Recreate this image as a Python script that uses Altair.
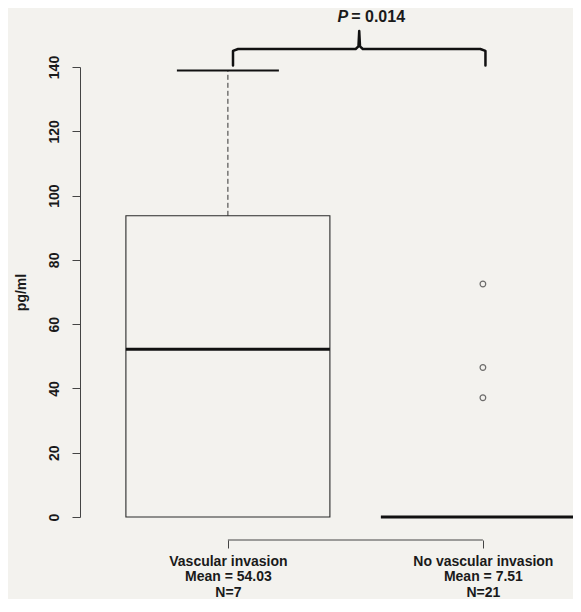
import altair as alt
import pandas as pd

# ---- data ----
groups = ["Vascular invasion", "No vascular invasion"]
means = ["54.03", "7.51"]
ns = [7, 21]
q1 = [0.0, 0.0]
median = [52.2, 0.0]
q3 = [93.7, 0.0]
whisk_hi = [138.9, 0.0]
outlier_group = [2, 2, 2]
outlier_vals = [72.5, 46.5, 37.1]
p_value = "0.014"
y_ticks = [0, 20, 40, 60, 80, 100, 120, 140]

# ---- layout / style constants ----
W, H = 493, 450
BOXWEX = 0.4       # half box width (x units)
STAPLE = 0.2       # half cap width
FONT = "Liberation Sans"
BG = "#f3f2ee"
INK = "#1a1a1a"

pos = list(range(1, len(groups) + 1))
box_df = pd.DataFrame({
    "pos": pos,
    "lo": [p - BOXWEX for p in pos],
    "hi": [p + BOXWEX for p in pos],
    "caplo": [p - STAPLE for p in pos],
    "caphi": [p + STAPLE for p in pos],
    "q1": q1, "med": median, "q3": q3, "whi": whisk_hi,
})
out_df = pd.DataFrame({"pos": outlier_group, "val": outlier_vals})

# brace over the two groups
b_lo, b_mid, b_top = 140.5, 145.6, 151.2
x1, x2 = pos[0] + 0.02, pos[1] + 0.01
xm = (x1 + x2) / 2
brace_df = pd.DataFrame({
    "x": [x1, x1, x1 + 0.02, xm - 0.014, xm - 0.003, xm, xm + 0.003, xm + 0.014,
          x2 - 0.02, x2, x2],
    "y": [b_lo, b_mid - 0.6, b_mid, b_mid, b_mid + 0.8, b_top, b_mid + 0.8, b_mid,
          b_mid, b_mid - 0.6, b_lo],
})
brace_df["o"] = range(len(brace_df))
p_df = pd.DataFrame({"x": [xm], "y": [155.6]})
bracket_df = pd.DataFrame({"x": [pos[0]], "x2": [pos[-1]]})

xs = alt.Scale(domain=[0.42, 0.42 + W / 255], nice=False, zero=False)
ys = alt.Scale(domain=[0, 140], nice=False, zero=False)

label_expr = " : ".join(
    f"datum.value == {p} ? {[g, 'Mean = ' + m, 'N=' + str(n)]}"
    for p, g, m, n in zip(pos[:-1], groups[:-1], means[:-1], ns[:-1])
) + f" : {[groups[-1], 'Mean = ' + means[-1], 'N=' + str(ns[-1])]}"

x_axis = alt.Axis(values=pos, labelExpr=label_expr, offset=23, domain=False,
                  tickSize=8, tickColor="#444", tickWidth=1, labelPadding=6,
                  labelLineHeight=15.5, labelFont=FONT, labelFontWeight="bold",
                  labelFontSize=14, labelColor=INK, labelBaseline="top",
                  labelOverlap=False, labelFlush=False, grid=False, title=None)
y_axis = alt.Axis(values=y_ticks, title="pg/ml", labelAngle=270, labelAlign="center",
                  labelBaseline="bottom", labelPadding=11, tickSize=8,
                  tickColor="#444", domainColor="#444", labelFont=FONT,
                  labelFontWeight="bold", labelFontSize=14, labelColor=INK,
                  grid=False, titleFont=FONT, titleFontWeight="bold",
                  titleFontSize=14, titleColor=INK, titleAngle=270,
                  titleAlign="center", titleBaseline="middle",
                  titleX=-59, titleY=H / 2)


def X(field):
    return alt.X(field, scale=xs, axis=x_axis)


def Y(field):
    return alt.Y(field, scale=ys, axis=y_axis)


base = alt.Chart(box_df)

box = base.mark_rect(fill="transparent", stroke="#2a2a2a", strokeWidth=1.1).encode(
    x=X("lo:Q"), x2="hi", y=Y("q1:Q"), y2="q3")
med = base.mark_rule(strokeWidth=3, color="#111").encode(
    x=X("lo:Q"), x2="hi", y=Y("med:Q"))
whisk = base.transform_filter("datum.whi > datum.q3").mark_rule(
    strokeDash=[5, 3], strokeWidth=1, color="#333").encode(
    x=X("pos:Q"), y=Y("q3:Q"), y2="whi")
cap = base.transform_filter("datum.whi > datum.q3").mark_rule(
    strokeWidth=2, color="#111").encode(
    x=X("caplo:Q"), x2="caphi", y=Y("whi:Q"))
outl = alt.Chart(out_df).mark_point(shape="circle", filled=False, size=32,
                                    strokeWidth=1.2, color="#333").encode(
    x=X("pos:Q"), y=Y("val:Q"))
bracket = alt.Chart(bracket_df).mark_rule(color="#444", strokeWidth=1).encode(
    x=X("x:Q"), x2="x2", y=alt.value(H + 23))
brace = alt.Chart(brace_df).mark_line(color="#111", strokeWidth=2.5,
                                      strokeJoin="round", strokeCap="round").encode(
    x=X("x:Q"), y=Y("y:Q"), order="o:Q")
p_italic = alt.Chart(p_df).mark_text(text="P", align="right", baseline="middle",
                                     dx=-11, font=FONT, fontSize=16, fontWeight="bold",
                                     fontStyle="italic", color=INK).encode(
    x=X("x:Q"), y=Y("y:Q"))
p_rest = alt.Chart(p_df).mark_text(text="= " + p_value, align="left", baseline="middle",
                                   dx=-8, font=FONT, fontSize=16, fontWeight="bold",
                                   color=INK).encode(
    x=X("x:Q"), y=Y("y:Q"))

chart = alt.layer(box, med, whisk, cap, outl, bracket, brace, p_italic, p_rest).properties(
    width=W, height=H,
    autosize=alt.AutoSizeParams(type="none"),
    padding={"left": 72, "top": 59, "right": 0, "bottom": 82},
    background=BG,
).configure_view(stroke=None)

chart.save("out.html", embed_options={"renderer": "svg", "actions": False})
